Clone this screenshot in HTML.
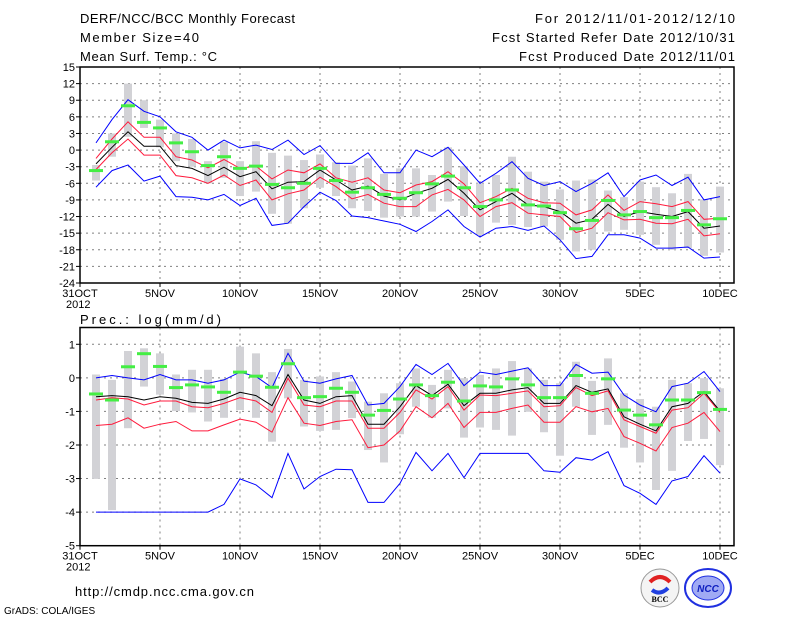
<!DOCTYPE html>
<html><head><meta charset="utf-8"><style>
body{margin:0;background:#fff;width:800px;height:618px;overflow:hidden}
svg{display:block;font-family:"Liberation Sans",sans-serif}
</style></head><body>
<svg id="c" width="800" height="618">
<g font-size="13" fill="#000">
<text x="80" y="23" textLength="215" lengthAdjust="spacing">DERF/NCC/BCC Monthly Forecast</text>
<text x="80" y="42" textLength="119" lengthAdjust="spacing">Member Size=40</text>
<text x="80" y="61" textLength="137" lengthAdjust="spacing">Mean Surf. Temp.: °C</text>
<text x="535" y="23" textLength="200" lengthAdjust="spacing">For 2012/11/01-2012/12/10</text>
<text x="492" y="42" textLength="243" lengthAdjust="spacing">Fcst Started Refer Date 2012/10/31</text>
<text x="519" y="61" textLength="216" lengthAdjust="spacing">Fcst Produced Date 2012/11/01</text>
<text x="80" y="324" textLength="141" lengthAdjust="spacing">Prec.: log(mm/d)</text>
<text x="75" y="596" textLength="179" lengthAdjust="spacing">http://cmdp.ncc.cma.gov.cn</text>
<text x="4" y="614" font-size="10">GrADS: COLA/IGES</text>
</g>
<g>
<circle cx="660" cy="588" r="19" fill="#f4f4f4" stroke="#999"/>
<path d="M650 582 q10 -10 20 0" stroke="#e02020" stroke-width="4" fill="none"/>
<path d="M652 590 q8 6 16 -2" stroke="#2040e0" stroke-width="4" fill="none"/>
<text x="660" y="602" font-size="8" font-weight="bold" text-anchor="middle" font-family="Liberation Serif,serif">BCC</text>
</g>
<g>
<ellipse cx="708" cy="588" rx="23" ry="19" fill="#fff" stroke="#2030e0" stroke-width="2"/>
<ellipse cx="708" cy="588" rx="16" ry="12" fill="#a0aaf4" stroke="#2030e0"/>
<text x="708" y="592" font-size="10" font-weight="bold" fill="#1020c0" text-anchor="middle" font-style="italic">NCC</text>
</g>
</svg>
<script>
// ---- Temperature panel data (days 1..40 = Nov 1..Dec 10) ----
const tBlueU=[1.3,5.5,9.1,7,6,3.3,2.3,0,1.8,0.4,0.9,0.1,1.8,-0.8,0.8,-2.4,-2.4,-0.5,-4.1,-4.1,0,-1.2,0.5,-2.7,-6,-4.2,-2.1,-5.1,-6.4,-5.7,-7.5,-6,-4.1,-8.4,-5.4,-4.5,-6.4,-4.9,-9,-8.4];
const tRedU=[-1.5,2,5.1,2.3,2.3,-1.2,-1.8,-3.2,-1.7,-3.3,-2.9,-5.2,-3.6,-4.1,-2.5,-5,-5.8,-5,-7.2,-7.7,-6.3,-5.7,-3.9,-6.1,-9.5,-8.4,-6.9,-8.7,-9.5,-9.6,-11.7,-10.8,-8.1,-10.9,-9.3,-9.7,-10.2,-9.3,-12.5,-12.3];
const tMean=[-2.5,0.5,3.3,0.7,0.7,-2.8,-3.3,-4.6,-3.1,-4.8,-3.9,-7,-5.8,-5.7,-3.6,-5.4,-7.2,-6.5,-8.3,-9,-7.8,-6.9,-5.3,-7.8,-10.8,-9.3,-7.8,-9.9,-10.2,-11.1,-13.2,-12.5,-9.8,-12,-11.1,-11.6,-12,-11.1,-14.1,-13.7];
const tRedL=[-3.5,-0.5,2,-0.9,-0.9,-4.6,-5,-6,-4.5,-6.4,-5.4,-9,-7.9,-7.2,-4.9,-6.6,-8.8,-8,-9.6,-10.2,-10.2,-8.1,-7.1,-9,-12,-10.2,-9.5,-11.4,-11.7,-12,-14.9,-14.1,-11.3,-12.6,-12.5,-13.2,-13.3,-12.5,-15.5,-15.1];
const tBlueL=[-6.7,-3.7,-2.7,-5.6,-4.7,-8.4,-8.5,-9,-8,-10,-8.7,-13.6,-13.2,-10.2,-7.6,-9.1,-11.9,-12.2,-12.8,-13.4,-14.7,-12.9,-10.8,-13.8,-15.7,-14.1,-13.8,-14.5,-13.7,-16.2,-19.6,-19.2,-15.3,-15.3,-15.9,-17.7,-17.7,-17.5,-19.5,-19.3];
const tObs=[-3.7,1.5,8,5,4,1.3,-0.3,-2.8,-1.2,-3.3,-2.9,-6.2,-6.8,-6,-3.3,-5.5,-7.6,-6.8,-8,-8.7,-7.7,-6.1,-4.7,-6.8,-10.2,-9,-7.2,-9.9,-10.1,-11.3,-14.2,-12.7,-9.1,-11.7,-11.1,-12.2,-12.2,-10.9,-13.5,-12.4];
const tBoxTop=[-2.7,3,12,9,5.5,3,2,-2,1.5,-2,1.6,-0.5,-1,-1.8,-0.8,-2.2,-2.8,-1.5,-4.3,-3.3,-3.3,-4.5,0.5,-2.9,-6,-4.5,-1.2,-3.9,-5.7,-7.1,-5.5,-5.3,-7.3,-8.5,-5.7,-6.7,-7.8,-4.3,-8.9,-6.6];
const tBoxBot=[-5.5,-1.2,2.4,4,0.5,-2,-3,-6,-5,-8.3,-7.5,-11.5,-13.3,-10.5,-6.8,-8.3,-10.5,-11,-12.2,-12,-12,-11.1,-9.3,-11.9,-15.3,-13.1,-13.5,-13.9,-13.8,-16.2,-18.3,-18,-14.7,-14.4,-15.3,-17.1,-18,-17.7,-19.1,-18.5];
const tTicks=[15,12,9,6,3,0,-3,-6,-9,-12,-15,-18,-21,-24];
// ---- Precipitation panel data ----
const pBlueU=[0,0.07,0,-0.06,0.1,-0.06,-0.06,-0.16,-0.06,0.17,0.04,-0.29,0.73,-0.1,-0.16,-0.03,0.07,-0.81,-0.76,-0.26,0.4,0.1,0.43,-0.23,0.17,0.1,0.2,0.3,-0.23,-0.23,0.4,0.14,0.17,-0.51,-0.81,-1.01,-0.26,-0.16,0.19,-0.41];
const pRedU=[-0.66,-0.59,-0.63,-0.81,-0.69,-0.69,-0.86,-0.89,-0.76,-0.59,-0.69,-1.03,-0.01,-0.81,-0.86,-0.69,-0.69,-1.5,-1.5,-1.03,-0.36,-0.63,-0.26,-0.96,-0.51,-0.53,-0.46,-0.39,-0.86,-0.83,-0.29,-0.53,-0.39,-1.25,-1.45,-1.65,-0.96,-0.89,-0.46,-1.03];
const pMean=[-0.56,-0.53,-0.56,-0.66,-0.56,-0.61,-0.73,-0.76,-0.63,-0.43,-0.53,-0.83,0.1,-0.66,-0.76,-0.56,-0.53,-1.38,-1.38,-0.86,-0.23,-0.53,-0.19,-0.83,-0.46,-0.46,-0.36,-0.29,-0.76,-0.76,-0.23,-0.43,-0.33,-1.16,-1.38,-1.58,-0.86,-0.76,-0.41,-0.99];
const pRedL=[-1.42,-1.38,-1.19,-1.5,-1.38,-1.3,-1.58,-1.58,-1.4,-1.23,-1.32,-1.62,-0.59,-1.35,-1.42,-1.3,-1.25,-2.08,-2,-1.58,-0.86,-1.19,-0.76,-1.48,-1.03,-1.03,-0.91,-0.81,-1.32,-1.32,-0.86,-1.01,-0.91,-1.75,-1.95,-2.18,-1.48,-1.35,-1.03,-1.6];
const pBlueL=[-4,-4,-4,-4,-4,-4,-4,-4,-3.77,-3.01,-3.19,-3.57,-2.25,-3.31,-2.94,-2.72,-2.74,-3.71,-3.71,-3.14,-2.22,-2.77,-2.25,-2.97,-2.25,-2.25,-2.25,-2.25,-2.77,-2.81,-2.38,-2.45,-2.2,-3.21,-3.44,-3.77,-3.07,-2.94,-2.32,-2.84];
const pObs=[-0.48,-0.66,0.33,0.72,0.34,-0.29,-0.21,-0.27,-0.43,0.17,0.05,-0.28,0.42,-0.59,-0.56,-0.31,-0.43,-1.11,-0.97,-0.63,-0.21,-0.53,-0.13,-0.69,-0.24,-0.27,-0.03,-0.21,-0.59,-0.59,0.07,-0.46,-0.03,-0.96,-1.11,-1.4,-0.66,-0.66,-0.44,-0.94];
const pBoxTop=[0.1,-0.06,0.8,0.88,0.73,0.1,0.24,0.24,-0.03,0.93,0.73,0.17,0.86,-0.06,0.04,0.17,-0.11,-0.71,-0.46,-0.16,0.28,-0.21,0.24,-0.01,0.09,0.28,0.5,0.28,-0.06,-0.16,0.48,-0.09,0.58,-0.46,-0.63,-0.86,-0.06,-0.16,-0.01,-0.31];
const pBoxBot=[-3.01,-3.94,-1.5,-0.26,-0.5,-0.99,-1.03,-1.3,-1.19,-0.96,-1.19,-1.9,-0.61,-1.45,-1.58,-1.55,-1.2,-2.15,-2.52,-1.68,-0.86,-1.19,-0.91,-1.78,-1.48,-1.55,-1.72,-1.01,-1.62,-2.32,-0.86,-1.7,-1.4,-2.08,-2.52,-3.34,-2.77,-1.88,-1.82,-2.6];
const pTicks=[1,0,-1,-2,-3,-4,-5];
const xLabels=['31OCT','5NOV','10NOV','15NOV','20NOV','25NOV','30NOV','5DEC','10DEC'];

const svg=document.getElementById('c');
const NS='http://www.w3.org/2000/svg';
function mk(tag,attrs,parent){const e=document.createElementNS(NS,tag);for(const k in attrs)e.setAttribute(k,attrs[k]);(parent||svg).appendChild(e);return e;}
const X0=80,XR=734,DX=16;
function xs(d){return X0+d*DX;}

function panel(name,top,bot,vmax,vmin,ticks,series,obs,bt,bb){
  const g=mk('g',{});
  
  
  const ys=v=>top+(vmax-v)/(vmax-vmin)*(bot-top);
  ticks.forEach(t=>{const y=ys(t);
    if(t<vmax&&t>vmin){const l=mk('line',{x1:X0,x2:XR,y1:y,y2:y,stroke:'#808080','stroke-dasharray':'2,4'},g);
      }
    const tx=mk('text',{x:75,y:y+4,'font-size':11,'text-anchor':'end'},g);tx.textContent=t;
    
    mk('line',{x1:X0-4,x2:X0,y1:y,y2:y,stroke:'#000'},g);
  });
  xLabels.forEach((s,i)=>{const x=xs(i*5);
    if(i>0){const l=mk('line',{x1:x,x2:x,y1:top,y2:bot,stroke:'#808080','stroke-dasharray':'2,4'},g);
      }
    mk('line',{x1:x,x2:x,y1:bot,y2:bot+4,stroke:'#000'},g);
    const tx=mk('text',{x:x,y:bot+14,'font-size':11,'text-anchor':'middle'},g);tx.textContent=s;
    
  });
  const yr=mk('text',{x:66,y:bot+25,'font-size':11},g);yr.textContent='2012';
  
  bt.forEach((v,i)=>{const a=ys(v),b=ys(bb[i]);
    const r=mk('rect',{x:xs(i+1)-4,y:a,width:8,height:b-a,fill:'#d2d2d6'},g);
    });
  series.forEach(([arr,col,nm])=>{
    const p=mk('polyline',{points:arr.map((v,i)=>xs(i+1)+','+ys(v).toFixed(1)).join(' '),fill:'none',stroke:col,'stroke-width':1},g);
    });
  obs.forEach((v,i)=>{
    const r=mk('rect',{x:xs(i+1)-7,y:ys(v)-1.5,width:14,height:3,fill:'#44ee44'},g);
    });
  const f=mk('rect',{x:X0,y:top,width:XR-X0,height:bot-top,fill:'none',stroke:'#000','stroke-width':1.5},g);
  
}
panel('temperature-panel',67,283,15,-24,tTicks,
  [[tBlueU,'#0000ff','blue-upper-line'],[tBlueL,'#0000ff','blue-lower-line'],[tRedU,'#ff1a3c','red-upper-line'],[tRedL,'#ff1a3c','red-lower-line'],[tMean,'#000','ensemble-mean-line']],
  tObs,tBoxTop,tBoxBot);
panel('precipitation-panel',327.5,545.7,1.5,-5,pTicks,
  [[pBlueU,'#0000ff','blue-upper-line'],[pBlueL,'#0000ff','blue-lower-line'],[pRedU,'#ff1a3c','red-upper-line'],[pRedL,'#ff1a3c','red-lower-line'],[pMean,'#000','ensemble-mean-line']],
  pObs,pBoxTop,pBoxBot);
</script>
</body></html>
